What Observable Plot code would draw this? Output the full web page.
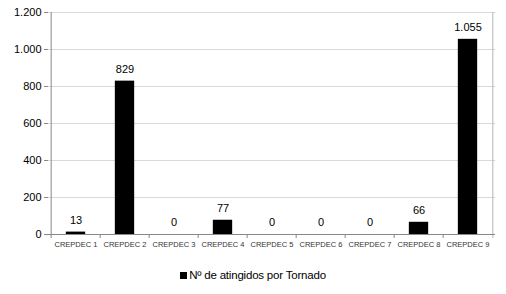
<!DOCTYPE html>
<html>
<head>
<meta charset="utf-8">
<script src="https://cdn.jsdelivr.net/npm/d3@7"></script>
<script src="https://cdn.jsdelivr.net/npm/@observablehq/plot@0.6"></script>
<style>
  html, body { margin: 0; padding: 0; background: #fff; }
  #chart { width: 506px; height: 294px; position: relative; font-family: "Liberation Sans", Arial, sans-serif; }
  #legend { position: absolute; left: 0; top: 269px; width: 506px; text-align: center; font-size: 11.5px; color: #000; letter-spacing: -0.2px; }
  #legend .sw { display: inline-block; width: 7px; height: 7px; background: #000; margin-right: 2px; vertical-align: 0px; }
</style>
</head>
<body>
<div id="chart"></div>
<script>
const categories = ["CREPDEC 1","CREPDEC 2","CREPDEC 3","CREPDEC 4","CREPDEC 5","CREPDEC 6","CREPDEC 7","CREPDEC 8","CREPDEC 9"];
const values = [13, 829, 0, 77, 0, 0, 0, 66, 1055];
const yTicks = [0, 200, 400, 600, 800, 1000, 1200];
const seriesName = "Nº de atingidos por Tornado";

const data = categories.map((c, i) => ({cat: c, v: values[i]}));
const ptBR = d3.formatLocale({decimal: ",", thousands: ".", grouping: [3], currency: ["R$", ""]});
const fmt = ptBR.format(",d");

const W = 506, H = 260;
const mL = 48, mR = 11, mT = 12, mB = 26;
const step = (W - mL - mR) / categories.length;
const inset = (step - 20) / 2;
const tickLen = 4 * 1200 / (H - mT - mB);

const plot = Plot.plot({
  width: W, height: H,
  marginLeft: mL, marginRight: mR, marginTop: mT, marginBottom: mB,
  style: {fontFamily: "Liberation Sans, Arial, sans-serif", background: "#fff"},
  x: {domain: categories, padding: 0, label: null},
  y: {domain: [0, 1200], label: null},
  marks: [
    Plot.gridY(yTicks, {stroke: "#d9d9d9", strokeOpacity: 1}),
    Plot.barY(data, {x: "cat", y: "v", fill: "#000", insetLeft: inset, insetRight: inset}),
    Plot.text(data, {x: "cat", y: "v", text: d => fmt(d.v), dy: -12, fontSize: 11, fill: "black"}),
    Plot.ruleX(categories, {x: d => d, dx: -step / 2, y1: 0, y2: -tickLen, stroke: "#888"}),
    Plot.ruleX(categories.slice(-1), {x: d => d, dx: step / 2, y1: -tickLen, y2: 1200, stroke: "#b5b5b5"}),
    Plot.ruleY([0], {stroke: "#888"}),
    Plot.axisY({ticks: yTicks, tickFormat: fmt, tickSize: 4, tickPadding: 3, fontSize: 11, stroke: "#888", fill: "black", label: null}),
    Plot.ruleX([categories[0]], {x: d => d, dx: -step / 2, y1: 0, y2: 1200, stroke: "#888"}),
    Plot.axisX({tickSize: 0, tickPadding: 7, fontSize: 7.5, fill: "#333", label: null})
  ]
});
document.getElementById("chart").appendChild(plot);
const lg = document.createElement("div");
lg.id = "legend";
lg.innerHTML = '<span class="sw"></span>' + seriesName;
document.getElementById("chart").appendChild(lg);
</script>
</body>
</html>
